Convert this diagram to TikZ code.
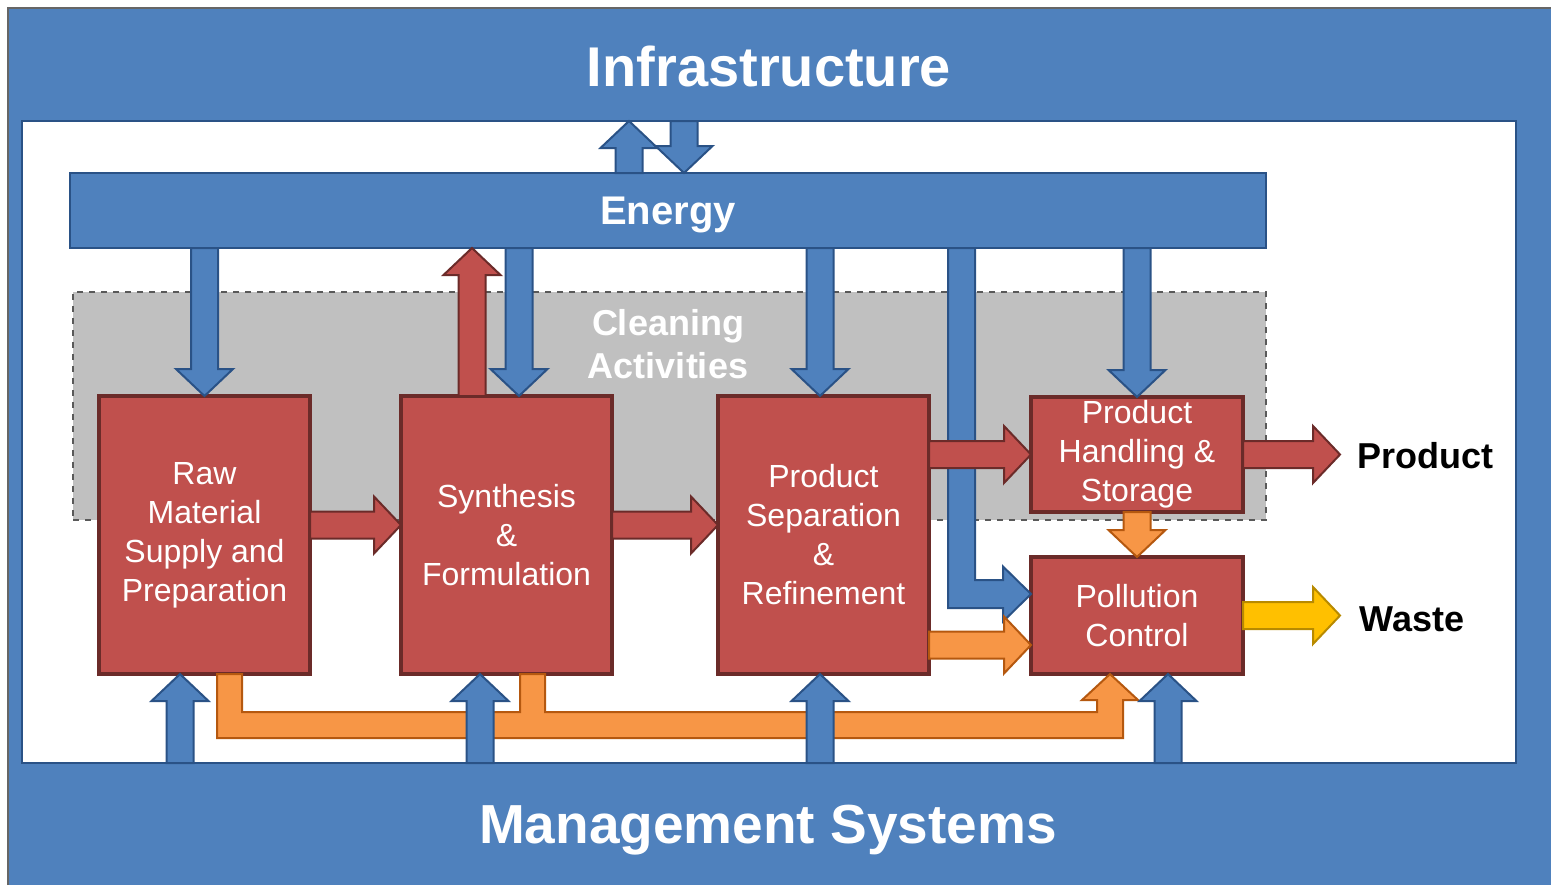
\documentclass[tikz,border=0pt]{standalone}
\usepackage{fontspec}
\setmainfont{Liberation Sans}
\usetikzlibrary{calc}
\definecolor{boxred}{HTML}{C0504D}
\definecolor{boxline}{HTML}{6B2B29}
\definecolor{bluefill}{HTML}{4F81BD}
\definecolor{blueline}{HTML}{2A5286}
\definecolor{orfill}{HTML}{F79646}
\definecolor{orline}{HTML}{B5580F}
\definecolor{yefill}{HTML}{FFC000}
\definecolor{yeline}{HTML}{B88A00}
\definecolor{cleangray}{HTML}{C0C0C0}
\def\bsw{6.75pt}\def\bhw{14.25pt}\def\bhl{13.5pt}
\newcommand\blockarrow[3]{%
 \filldraw[#1] let \p1=(#2), \p2=(#3), \n1={veclen(\x2-\x1,\y2-\y1)},
   \n2={(\x2-\x1)/(\n1)}, \n3={(\y2-\y1)/(\n1)} in
 ({\x1-(\n3)*\bsw},{\y1+(\n2)*\bsw})
 -- ({\x2-(\n2)*\bhl-(\n3)*\bsw},{\y2-(\n3)*\bhl+(\n2)*\bsw})
 -- ({\x2-(\n2)*\bhl-(\n3)*\bhw},{\y2-(\n3)*\bhl+(\n2)*\bhw})
 -- (\p2)
 -- ({\x2-(\n2)*\bhl+(\n3)*\bhw},{\y2-(\n3)*\bhl-(\n2)*\bhw})
 -- ({\x2-(\n2)*\bhl+(\n3)*\bsw},{\y2-(\n3)*\bhl-(\n2)*\bsw})
 -- ({\x1+(\n3)*\bsw},{\y1-(\n2)*\bsw}) -- cycle;}
\begin{document}
\begin{tikzpicture}[x=0.5pt,y=-0.5pt,
  box/.style={rectangle,fill=boxred,draw=boxline,line width=2pt,inner sep=0pt,outer sep=0pt,
    minimum width=105.5pt,minimum height=139pt,align=center,text=white,
    font=\fontsize{16}{19.5}\selectfont},
  bluearr/.style={fill=bluefill,draw=blueline,line width=1pt,line join=miter},
  redarr/.style={fill=boxred,draw=boxline,line width=1pt,line join=miter},
  orarr/.style={fill=orfill,draw=orline,line width=1pt,line join=miter},
  yearr/.style={fill=yefill,draw=yeline,line width=1pt,line join=miter},
  bigtitle/.style={text=white,font=\bfseries\fontsize{#1}{#1}\selectfont,inner sep=0pt,text depth=0pt},
  sidelabel/.style={text=black,font=\bfseries\fontsize{18}{20}\selectfont,inner sep=0pt,anchor=west}]
\useasboundingbox (0,0) rectangle (1551,885);
\fill[white] (0,0) rectangle (1551,885);
% outer frame
\fill[bluefill] (8,8) rectangle (1551,885);
\draw[line width=1.2pt,draw=black!60] (8,885) -- (8,8) -- (1551,8);
% inner white area
\node[rectangle,fill=white,draw=blueline,line width=0.8pt,inner sep=0pt,outer sep=0pt,
  minimum width=747pt,minimum height=321pt] (inner) at (769,442) {};
\node[bigtitle=28] (infra) at (769,66) {Infrastructure};
\node[bigtitle=27.5] (mgmt) at (768,824) {Management Systems};
% cleaning region
\node[rectangle,fill=cleangray,draw=black!65,dashed,line width=0.7pt,inner sep=0pt,outer sep=0pt,
  minimum width=596.5pt,minimum height=114pt] (clean) at (669.5,406) {};
% energy bar
\node[rectangle,fill=bluefill,draw=blueline,line width=1.3pt,inner sep=0pt,outer sep=0pt,
  minimum width=598pt,minimum height=37.5pt,text=white,text depth=0pt,
  font=\bfseries\fontsize{20}{22}\selectfont]
  (energy) at (668,210.5) {Energy};
% labels on the right
\node[sidelabel] (product) at (1357,456) {Product};
\node[sidelabel] (waste) at (1359,619) {Waste};
% process boxes
\node[box] (raw) at (204.5,535) {Raw\\Material\\Supply and\\Preparation};
\node[box] (synth) at (506.5,535) {Synthesis\\\&\\Formulation};
\node[box] (prodsep) at (823.5,535) {Product\\Separation\\\&\\Refinement};
\node[box,minimum width=106pt,minimum height=57.5pt] (handling) at (1137,454.5) {Product\\Handling \&\\Storage};
\node[box,minimum width=106pt,minimum height=58.5pt] (pollution) at (1137,615.5) {Pollution\\Control};
% orange bottom connector
\coordinate (o1) at ($(raw.south)+(25,0)$);
\coordinate (o2) at ($(synth.south)+(26,0)$);
\coordinate (o3) at ($(pollution.south)+(-27,0)$);
\coordinate (ob) at ($(raw.south)+(0,51)$);
\filldraw[orarr] ($(o1)+(-12.5,0)$) -- ($(o1 |- ob)+(-12.5,13)$) -- ($(o3 |- ob)+(13,13)$)
  -- ($(o3)+(13,26)$) -- ($(o3)+(28,26)$) -- (o3) -- ($(o3)+(-28,26)$) -- ($(o3)+(-13,26)$)
  -- ($(o3 |- ob)+(-13,-13)$) -- ($(o2 |- ob)+(12.5,-13)$) -- ($(o2)+(12.5,0)$)
  -- ($(o2)+(-12.5,0)$) -- ($(o2 |- ob)+(-12.5,-13)$) -- ($(o1 |- ob)+(12.5,-13)$)
  -- ($(o1)+(12.5,0)$) -- cycle;
% energy <-> infrastructure
\coordinate (eu) at ($(energy.north)+(-39,0)$);
\coordinate (ed) at ($(energy.north)+(16,0)$);
\blockarrow{bluearr}{eu}{eu |- inner.north}
\blockarrow{bluearr}{ed |- inner.north}{ed}
% energy down to boxes
\coordinate (sd) at ($(synth.north)+(12.5,0)$);
\coordinate (su) at ($(synth.north)+(-34.5,0)$);
\coordinate (pd) at ($(prodsep.north)+(-3.5,0)$);
\blockarrow{bluearr}{raw.north |- energy.south}{raw.north}
\blockarrow{redarr}{su}{su |- energy.south}
\blockarrow{bluearr}{sd |- energy.south}{sd}
\blockarrow{bluearr}{pd |- energy.south}{pd}
\blockarrow{bluearr}{handling.north |- energy.south}{handling.north}
% L-shaped energy arrow to pollution control
\coordinate (lv) at ($(pollution.west)+(-69.5,-21.5)$);
\coordinate (lw) at (lv -| pollution.west);
\filldraw[bluearr] ($(lv |- energy.south)+(-13.5,0)$) -- ($(lv)+(-13.5,14)$) -- ($(lw)+(-28,14)$)
  -- ($(lw)+(-28,27.5)$) -- (lw) -- ($(lw)+(-28,-27.5)$) -- ($(lw)+(-28,-14)$)
  -- ($(lv)+(13.5,-14)$) -- ($(lv |- energy.south)+(13.5,0)$) -- cycle;
% process flow
\coordinate (rs) at ($(raw.east)+(0,-10)$);
\coordinate (sp) at ($(synth.east)+(0,-10)$);
\blockarrow{redarr}{rs}{rs -| synth.west}
\blockarrow{redarr}{sp}{sp -| prodsep.west}
\blockarrow{redarr}{prodsep.east |- handling.west}{handling.west}
\coordinate (pe) at ($(product.west)+(-17,0)$);
\blockarrow{redarr}{handling.east}{pe |- handling.east}
\coordinate (op) at ($(pollution.west)+(0,29.5)$);
\blockarrow{orarr}{prodsep.east |- op}{op}
\blockarrow{orarr}{handling.south}{pollution.north}
\coordinate (we) at ($(waste.west)+(-19,0)$);
\blockarrow{yearr}{pollution.east}{we |- pollution.east}
% management up to boxes
\coordinate (b1) at ($(raw.south)+(-24.5,0)$);
\coordinate (b2) at ($(synth.south)+(-26.5,0)$);
\coordinate (b3) at ($(prodsep.south)+(-3.5,0)$);
\coordinate (b4) at ($(pollution.south)+(31,0)$);
\blockarrow{bluearr}{b1 |- inner.south}{b1}
\blockarrow{bluearr}{b2 |- inner.south}{b2}
\blockarrow{bluearr}{b3 |- inner.south}{b3}
\blockarrow{bluearr}{b4 |- inner.south}{b4}
% cleaning label
\node[text=white,align=center,inner sep=0pt,font=\bfseries\fontsize{18}{21.5}\selectfont]
  (cleantext) at (668,344) {Cleaning\\Activities};
\end{tikzpicture}
\end{document}
